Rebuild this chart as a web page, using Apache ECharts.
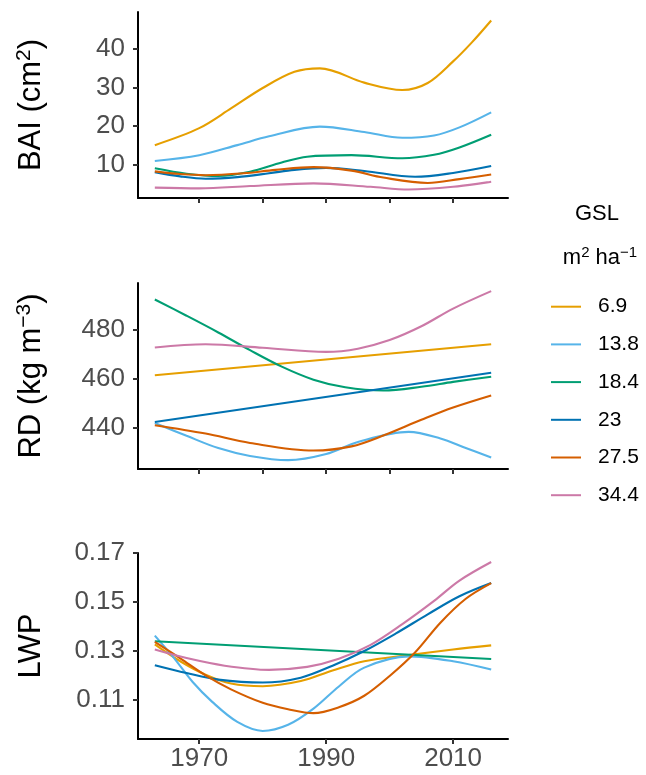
<!DOCTYPE html>
<html>
<head>
<meta charset="utf-8">
<script src="https://cdn.jsdelivr.net/npm/echarts@6/dist/echarts.min.js"></script>
<style>
  html, body { margin: 0; padding: 0; background: #fff; }
  #chart { width: 646px; height: 775px; }
</style>
</head>
<body>
<div id="chart"></div>
<script>
// Stand groups (GSL, m2 ha-1) and their colours
const groups = ['6.9', '13.8', '18.4', '23', '27.5', '34.4'];
const colors = ['#E69F00', '#56B4E9', '#009E73', '#0072B2', '#D55E00', '#CC79A7'];

// Basal area increment (cm2): years and fitted values per group
const bai69Yr  = [1963, 1970, 1975, 1980, 1985, 1989, 1996, 2002, 2006, 2010, 2013, 2016];
const bai69    = [15.1, 19.5, 24.6, 29.9, 34.1, 35.0, 31.3, 29.4, 31.2, 36.8, 41.8, 47.4];
const bai138Yr = [1963, 1970, 1976, 1981, 1989, 1996, 2002, 2007, 2011, 2016];
const bai138   = [11.0, 12.5, 15.1, 17.4, 19.9, 18.5, 17.0, 17.6, 19.7, 23.6];
const bai184Yr = [1963, 1968, 1973, 1978, 1983, 1987, 1994, 2002, 2007, 2011, 2016];
const bai184   = [9.1, 7.7, 7.1, 8.2, 10.6, 12.1, 12.5, 11.7, 12.6, 14.5, 17.8];
const bai23Yr  = [1963, 1967, 1971, 1976, 1981, 1985, 1990, 1996, 2004, 2010, 2016];
const bai23    = [8.1, 7.0, 6.4, 6.8, 7.8, 8.7, 9.2, 8.4, 6.9, 7.9, 9.7];
const bai275Yr = [1963, 1967, 1971, 1977, 1982, 1988, 1994, 1999, 2006, 2011, 2016];
const bai275   = [8.3, 7.6, 7.3, 7.8, 8.7, 9.4, 8.5, 6.7, 5.3, 6.3, 7.5];
const bai344Yr = [1963, 1970, 1978, 1988, 1997, 2003, 2010, 2016];
const bai344   = [4.1, 3.9, 4.5, 5.2, 4.3, 3.6, 4.3, 5.6];

// Ring density (kg m-3)
const rd69Yr  = [1963, 2016];
const rd69    = [461.4, 474.0];
const rd138Yr = [1963, 1968, 1973, 1978, 1984, 1990, 1995, 2003, 2008, 2012, 2016];
const rd138   = [442.0, 436.8, 431.8, 428.6, 426.9, 429.4, 434.3, 438.4, 435.7, 431.8, 428.0];
const rd184Yr = [1963, 1968, 1973, 1978, 1983, 1988, 1993, 1999, 2005, 2010, 2016];
const rd184   = [492.2, 485.6, 478.8, 471.6, 464.9, 459.6, 456.5, 455.2, 456.7, 458.7, 460.8];
const rd23Yr  = [1963, 2016];
const rd23    = [442.4, 462.4];
const rd275Yr = [1963, 1971, 1978, 1988, 1994, 1999, 2005, 2010, 2016];
const rd275   = [441.1, 437.7, 433.9, 430.8, 432.5, 436.9, 443.3, 448.3, 453.2];
const rd344Yr = [1963, 1971, 1980, 1990, 1995, 2000, 2005, 2010, 2016];
const rd344   = [472.7, 474.0, 472.6, 470.9, 472.2, 475.7, 481.3, 488.5, 495.6];

// Latewood proportion
const lwp69Yr  = [1963, 1967, 1971, 1975, 1980, 1986, 1991, 1996, 2003, 2010, 2016];
const lwp69    = [0.1327, 0.1258, 0.1203, 0.1167, 0.1156, 0.1177, 0.1220, 0.1258, 0.1283, 0.1306, 0.1323];
const lwp138Yr = [1963, 1966, 1969, 1972, 1976, 1980, 1984, 1988, 1992, 1996, 2003, 2010, 2016];
const lwp138   = [0.1363, 0.1272, 0.1172, 0.1093, 0.1010, 0.0973, 0.0998, 0.1064, 0.1155, 0.1232, 0.1278, 0.1258, 0.1224];
const lwp184Yr = [1963, 2016];
const lwp184   = [0.1340, 0.1267];
const lwp23Yr  = [1963, 1968, 1973, 1980, 1986, 1991, 1996, 2001, 2006, 2011, 2016];
const lwp23    = [0.1242, 0.1210, 0.1183, 0.1171, 0.1191, 0.1240, 0.1300, 0.1372, 0.1450, 0.1524, 0.1578];
const lwp275Yr = [1963, 1967, 1971, 1975, 1980, 1984, 1988, 1992, 1996, 2000, 2004, 2008, 2012, 2016];
const lwp275   = [0.1337, 0.1270, 0.1200, 0.1143, 0.1088, 0.1062, 0.1046, 0.1070, 0.1117, 0.1198, 0.1294, 0.1416, 0.1514, 0.1578];
const lwp344Yr = [1963, 1968, 1974, 1981, 1987, 1992, 1997, 2002, 2007, 2011, 2016];
const lwp344   = [0.1306, 0.1271, 0.1240, 0.1223, 0.1235, 0.1268, 0.1325, 0.1410, 0.1505, 0.1588, 0.1664];

// Tick labels
const xTicksTop = [1970, 1980, 1990, 2000, 2010];
const xTicksBottom = [1970, 1990, 2010];
const baiTicks = [10, 20, 30, 40];
const rdTicks = [440, 460, 480];
const lwpTicks = [0.11, 0.13, 0.15, 0.17];

const FONT = '"Liberation Sans", Arial, Helvetica, sans-serif';

const panels = [
  { xs: [bai69Yr, bai138Yr, bai184Yr, bai23Yr, bai275Yr, bai344Yr],
    ys: [bai69, bai138, bai184, bai23, bai275, bai344],
    min: 1.4, max: 49.6, ticks: baiTicks,
    title: '{t|BAI (cm}{s|2}{t|)}' },
  { xs: [rd69Yr, rd138Yr, rd184Yr, rd23Yr, rd275Yr, rd344Yr],
    ys: [rd69, rd138, rd184, rd23, rd275, rd344],
    min: 423.3, max: 498.9, ticks: rdTicks,
    title: '{t|RD (kg m}{s|\u22123}{t|)}' },
  { xs: [lwp69Yr, lwp138Yr, lwp184Yr, lwp23Yr, lwp275Yr, lwp344Yr],
    ys: [lwp69, lwp138, lwp184, lwp23, lwp275, lwp344],
    min: 0.0940, max: 0.1701, ticks: lwpTicks,
    title: '{t|LWP}' }
];

const gridTops = [12, 283, 553];
const grids = gridTops.map(top => ({ left: 138, top: top, width: 370, height: 186 }));

const axisLine = { show: true, onZero: false, lineStyle: { color: '#000', width: 2 } };

const xAxes = panels.map((p, i) => {
  const bottom = i === panels.length - 1;
  return {
    type: 'value', gridIndex: i, min: 1960.35, max: 2018.65,
    axisLine: axisLine,
    axisTick: { show: true, length: 5, lineStyle: { color: '#333', width: 2 },
                customValues: bottom ? xTicksBottom : xTicksTop },
    axisLabel: { show: bottom, customValues: xTicksBottom, fontSize: 26, color: '#4D4D4D',
                 fontFamily: FONT, margin: 7, formatter: v => String(v) },
    splitLine: { show: false }
  };
});

const yAxes = panels.map((p, i) => ({
  type: 'value', gridIndex: i, min: p.min, max: p.max,
  axisLine: axisLine,
  axisTick: { show: true, length: 5, lineStyle: { color: '#333', width: 2 }, customValues: p.ticks },
  axisLabel: { customValues: p.ticks, fontSize: 26, color: '#4D4D4D', fontFamily: FONT, margin: 13 },
  splitLine: { show: false },
  name: p.title, nameLocation: 'middle', nameRotate: 90, nameGap: 89,
  nameTextStyle: {
    rich: {
      t: { fontSize: 31, fontFamily: FONT, color: '#000', lineHeight: 35, verticalAlign: 'middle' },
      s: { fontSize: 21, fontFamily: FONT, color: '#000', lineHeight: 21, verticalAlign: 'top' }
    }
  }
}));

const series = [];
panels.forEach((p, i) => {
  groups.forEach((g, k) => {
    series.push({
      type: 'line', name: g, xAxisIndex: i, yAxisIndex: i,
      data: p.xs[k].map((x, j) => [x, p.ys[k][j]]),
      smooth: 0.34, symbol: 'none', silent: true,
      lineStyle: { color: colors[k], width: 2.1 },
      itemStyle: { color: colors[k] }
    });
  });
});

const chart = echarts.init(document.getElementById('chart'), null, { renderer: 'canvas' });
chart.setOption({
  animation: false,
  backgroundColor: '#fff',
  color: colors,
  grid: grids,
  xAxis: xAxes,
  yAxis: yAxes,
  series: series,
  legend: {
    data: groups, orient: 'vertical', left: 551, top: 296.2, padding: 0,
    icon: 'rect', itemWidth: 30, itemHeight: 2, itemGap: 16.7,
    selectedMode: false,
    textStyle: { fontSize: 21, fontFamily: FONT, color: '#000', lineHeight: 21, padding: [0, 0, 0, 12] }
  },
  graphic: [
    { type: 'text', x: 597, y: 214,
      style: { text: 'GSL', fontSize: 22, fontFamily: FONT, fill: '#000', align: 'center', verticalAlign: 'middle' } },
    { type: 'text', x: 600, y: 258,
      style: { text: '{a|m}{s|2}{a| ha}{s|\u22121}', align: 'center', verticalAlign: 'middle',
        rich: {
          a: { fontSize: 22, fontFamily: FONT, fill: '#000', lineHeight: 26, verticalAlign: 'middle' },
          s: { fontSize: 15, fontFamily: FONT, fill: '#000', lineHeight: 15, verticalAlign: 'top' }
        } } }
  ]
});
</script>
</body>
</html>
